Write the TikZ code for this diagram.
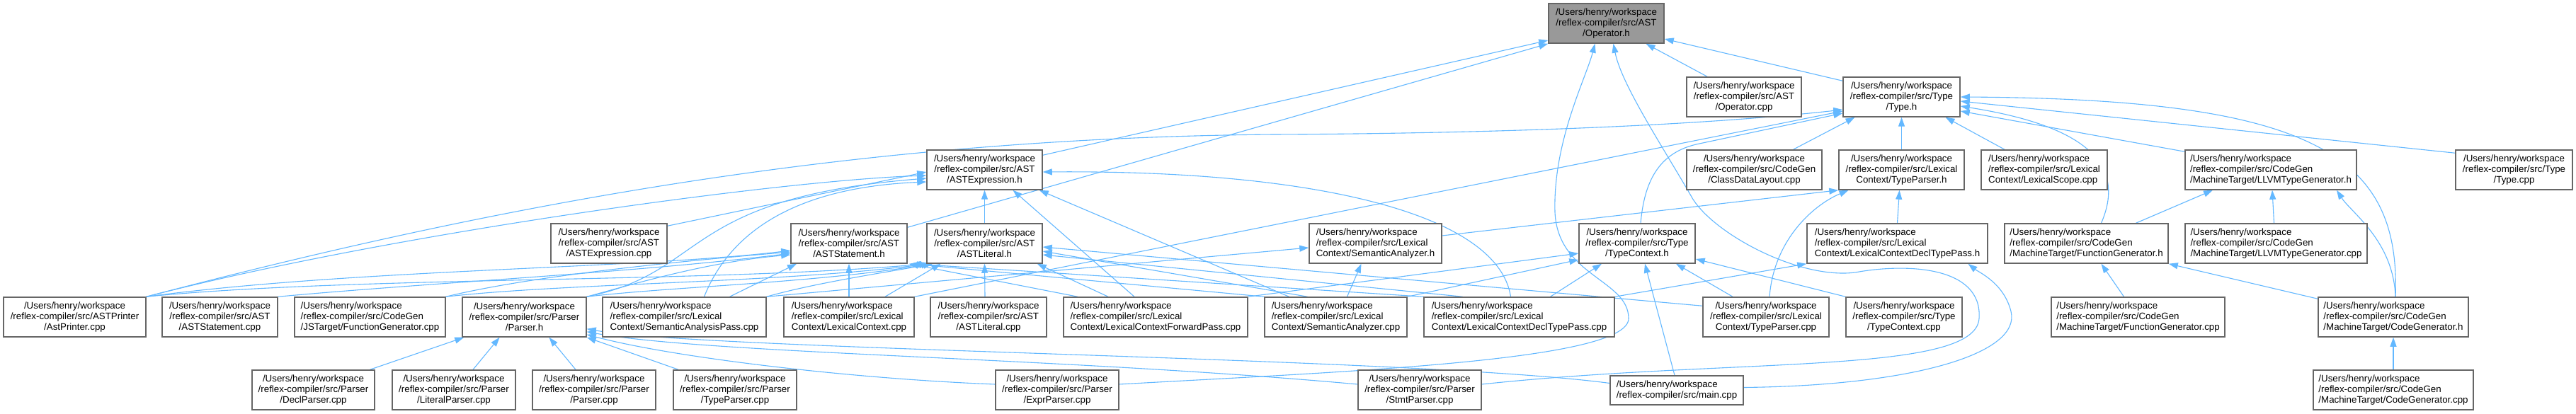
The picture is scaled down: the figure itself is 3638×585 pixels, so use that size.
\documentclass[tikz,border=0pt]{standalone}
\usepackage{fontspec}
\setmainfont{Liberation Sans}
\usetikzlibrary{arrows.meta}
\definecolor{edgec}{HTML}{63B8FF}
\definecolor{bordc}{HTML}{666666}
\definecolor{rootc}{HTML}{999999}
\pgfdeclarelayer{bg}
\pgfsetlayers{bg,main}
\tikzset{
 box/.style={draw=bordc, line width=1.5pt, fill=white, inner sep=0pt, font=\fontsize{13.33}{15}\selectfont, text=black},
 rootbox/.style={box, fill=rootc},
 edge/.style={draw=edgec, line width=1.1pt, -{Triangle[length=13pt,width=9pt]}},
}
\newcommand{\mkbox}[7]{\node[#6,minimum width={#4-#2},minimum height={#5-#3}] (#1) at ({(#2+#4)/2},{(#3+#5)/2}) {#7};}
\begin{document}
\begin{tikzpicture}[x=1pt,y=-1pt]
\useasboundingbox (0,0) rectangle (3638,585);
\begin{pgfonlayer}{bg}
\fill[white] (0,0) rectangle (3638,585);
\end{pgfonlayer}
% rank 0
\mkbox{opH}{2187}{5}{2350}{61}{rootbox,align=center}{/Users/henry/workspace\\/reflex-compiler/src/AST\\/Operator.h}
% rank 1
\mkbox{opCpp}{2382}{109}{2544}{165}{box,align=center}{/Users/henry/workspace\\/reflex-compiler/src/AST\\/Operator.cpp}
\mkbox{typeH}{2603}{109}{2768}{165}{box,align=center}{/Users/henry/workspace\\/reflex-compiler/src/Type\\/Type.h}
% rank 2
\mkbox{astExprH}{1309}{212}{1472}{268}{box,align=center}{/Users/henry/workspace\\/reflex-compiler/src/AST\\/ASTExpression.h}
\mkbox{classDL}{2382}{212}{2573}{268}{box,align=center}{/Users/henry/workspace\\/reflex-compiler/src/CodeGen\\/ClassDataLayout.cpp}
\mkbox{tpH}{2597}{212}{2774}{268}{box,align=center}{/Users/henry/workspace\\/reflex-compiler/src/Lexical\\Context/TypeParser.h}
\mkbox{lexScope}{2798}{212}{2976}{268}{box,align=left}{/Users/henry/workspace\\/reflex-compiler/src/Lexical\\Context/LexicalScope.cpp}
\mkbox{llvmTGH}{3086}{212}{3328}{268}{box,align=left}{/Users/henry/workspace\\/reflex-compiler/src/CodeGen\\/MachineTarget/LLVMTypeGenerator.h}
\mkbox{typeCpp}{3468}{212}{3633}{268}{box,align=center}{/Users/henry/workspace\\/reflex-compiler/src/Type\\/Type.cpp}
% rank 3
\mkbox{astExprCpp}{778}{316}{942}{372}{box,align=center}{/Users/henry/workspace\\/reflex-compiler/src/AST\\/ASTExpression.cpp}
\mkbox{astStmtH}{1117}{316}{1281}{372}{box,align=center}{/Users/henry/workspace\\/reflex-compiler/src/AST\\/ASTStatement.h}
\mkbox{astLitH}{1309}{316}{1472}{372}{box,align=center}{/Users/henry/workspace\\/reflex-compiler/src/AST\\/ASTLiteral.h}
\mkbox{semAnH}{1849}{316}{2036}{372}{box,align=left}{/Users/henry/workspace\\/reflex-compiler/src/Lexical\\Context/SemanticAnalyzer.h}
\mkbox{typeCtxH}{2230}{316}{2394}{372}{box,align=center}{/Users/henry/workspace\\/reflex-compiler/src/Type\\/TypeContext.h}
\mkbox{lcdtpH}{2552}{316}{2807}{372}{box,align=left}{/Users/henry/workspace\\/reflex-compiler/src/Lexical\\Context/LexicalContextDeclTypePass.h}
\mkbox{fgH}{2831}{316}{3062}{372}{box,align=left}{/Users/henry/workspace\\/reflex-compiler/src/CodeGen\\/MachineTarget/FunctionGenerator.h}
\mkbox{llvmTGCpp}{3086}{316}{3343}{372}{box,align=left}{/Users/henry/workspace\\/reflex-compiler/src/CodeGen\\/MachineTarget/LLVMTypeGenerator.cpp}
% rank 4
\mkbox{astPrinter}{5}{420}{206}{476}{box,align=center}{/Users/henry/workspace\\/reflex-compiler/src/ASTPrinter\\/AstPrinter.cpp}
\mkbox{astStmtCpp}{229}{420}{392}{476}{box,align=center}{/Users/henry/workspace\\/reflex-compiler/src/AST\\/ASTStatement.cpp}
\mkbox{jsFG}{416}{420}{629}{476}{box,align=left}{/Users/henry/workspace\\/reflex-compiler/src/CodeGen\\/JSTarget/FunctionGenerator.cpp}
\mkbox{parserH}{653}{420}{828}{476}{box,align=center}{/Users/henry/workspace\\/reflex-compiler/src/Parser\\/Parser.h}
\mkbox{semPass}{851}{420}{1082}{476}{box,align=left}{/Users/henry/workspace\\/reflex-compiler/src/Lexical\\Context/SemanticAnalysisPass.cpp}
\mkbox{lexCtx}{1107}{420}{1291}{476}{box,align=left}{/Users/henry/workspace\\/reflex-compiler/src/Lexical\\Context/LexicalContext.cpp}
\mkbox{astLitCpp}{1314}{420}{1478}{476}{box,align=center}{/Users/henry/workspace\\/reflex-compiler/src/AST\\/ASTLiteral.cpp}
\mkbox{lcFwd}{1502}{420}{1762}{476}{box,align=left}{/Users/henry/workspace\\/reflex-compiler/src/Lexical\\Context/LexicalContextForwardPass.cpp}
\mkbox{semAnCpp}{1786}{420}{1987}{476}{box,align=left}{/Users/henry/workspace\\/reflex-compiler/src/Lexical\\Context/SemanticAnalyzer.cpp}
\mkbox{lcdtpCpp}{2011}{420}{2280}{476}{box,align=left}{/Users/henry/workspace\\/reflex-compiler/src/Lexical\\Context/LexicalContextDeclTypePass.cpp}
\mkbox{lcTPCpp}{2405}{420}{2583}{476}{box,align=center}{/Users/henry/workspace\\/reflex-compiler/src/Lexical\\Context/TypeParser.cpp}
\mkbox{typeCtxCpp}{2607}{420}{2771}{476}{box,align=center}{/Users/henry/workspace\\/reflex-compiler/src/Type\\/TypeContext.cpp}
\mkbox{fgCpp}{2897}{420}{3142}{476}{box,align=left}{/Users/henry/workspace\\/reflex-compiler/src/CodeGen\\/MachineTarget/FunctionGenerator.cpp}
\mkbox{cgH}{3274}{420}{3486}{476}{box,align=left}{/Users/henry/workspace\\/reflex-compiler/src/CodeGen\\/MachineTarget/CodeGenerator.h}
% rank 5
\mkbox{declP}{356}{523}{529}{579}{box,align=center}{/Users/henry/workspace\\/reflex-compiler/src/Parser\\/DeclParser.cpp}
\mkbox{litP}{554}{523}{728}{579}{box,align=center}{/Users/henry/workspace\\/reflex-compiler/src/Parser\\/LiteralParser.cpp}
\mkbox{parserCpp}{752}{523}{926}{579}{box,align=center}{/Users/henry/workspace\\/reflex-compiler/src/Parser\\/Parser.cpp}
\mkbox{typeP}{951}{523}{1125}{579}{box,align=center}{/Users/henry/workspace\\/reflex-compiler/src/Parser\\/TypeParser.cpp}
\mkbox{exprP}{1406}{523}{1580}{579}{box,align=center}{/Users/henry/workspace\\/reflex-compiler/src/Parser\\/ExprParser.cpp}
\mkbox{stmtP}{1918}{523}{2092}{579}{box,align=center}{/Users/henry/workspace\\/reflex-compiler/src/Parser\\/StmtParser.cpp}
\mkbox{mainCpp}{2274}{531}{2462}{572}{box,align=left}{/Users/henry/workspace\\/reflex-compiler/src/main.cpp}
\mkbox{cgCpp}{3267}{523}{3493}{579}{box,align=left}{/Users/henry/workspace\\/reflex-compiler/src/CodeGen\\/MachineTarget/CodeGenerator.cpp}

\begin{pgfonlayer}{bg}
% into Operator.h
\draw[edge] ([xshift=-52pt]opCpp.north) -- ([xshift=56pt]opH.south);
\draw[edge] ([yshift=-6pt]typeH.north west) -- ([yshift=-22pt]opH.east);
\draw[edge] ([yshift=-8pt]astExprH.north east) -- ([yshift=-24pt]opH.west);
\draw[edge] ([yshift=-6pt]astStmtH.north east) -- (opH.south west);
\draw[edge] ([yshift=8pt]exprP.east) .. controls (1900,525) and (2300,510) .. (2300,450) .. controls (2300,395) and (2200,390) .. (2196,300) .. controls (2193,200) and (2240,110) .. ([xshift=-16pt]opH.south);
\draw[edge] ([yshift=8pt]stmtP.east) .. controls (2450,505) and (2790,530) .. (2795,450) .. controls (2800,375) and (2690,372) .. (2620,385) .. controls (2540,395) and (2420,330) .. (2390,280) .. controls (2350,210) and (2290,120) .. ([xshift=10pt]opH.south);
% into Type.h
\draw[edge] ([xshift=55pt]classDL.north) -- ([xshift=-66pt]typeH.south);
\draw[edge] (tpH.north) -- (typeH.south);
\draw[edge] ([xshift=-56pt]lexScope.north) -- ([xshift=62pt]typeH.south);
\draw[edge] ([yshift=-3pt]llvmTGH.north west) -- ([yshift=-20pt]typeH.east);
\draw[edge] ([yshift=-5pt]typeCpp.north west) -- ([yshift=-6pt]typeH.east);
\draw[edge] ([xshift=21pt]fgH.north) .. controls (3000,240) and (2960,180) .. ([yshift=-13pt]typeH.east);
\draw[edge] ([xshift=3pt]cgH.north) .. controls (3390,220) and (3270,140) .. (typeH.east);
\draw[edge] ([xshift=5pt]typeCtxH.north) .. controls (2322,260) and (2340,215) .. (2400,203) -- ([yshift=-23pt]typeH.west);
\draw[edge] (lexCtx.north east) -- ([yshift=-20pt]typeH.west);
\draw[edge] (astPrinter.north east) .. controls (700,290) and (1200,195) .. (1800,190) .. controls (2200,188) and (2450,172) .. ([yshift=-18pt]typeH.west);
% into TypeParser.h
\draw[edge] ([yshift=11pt]semAnH.east) -- (tpH.south west);
\draw[edge] ([xshift=5pt]lcTPCpp.north) .. controls (2505,340) and (2560,290) .. ([xshift=-75pt]tpH.south);
\draw[edge] (lcdtpH.north) -- ([xshift=-3pt]tpH.south);
% into LLVMTypeGenerator.h
\draw[edge] ([xshift=-3pt]llvmTGCpp.north) -- ([xshift=2pt]llvmTGH.south);
\draw[edge] ([xshift=70pt]fgH.north) -- ([xshift=-82pt]llvmTGH.south);
\draw[edge] ([xshift=3pt]cgH.north) .. controls (3380,340) and (3320,300) .. ([xshift=93pt]llvmTGH.south);
% into FunctionGenerator.h / CodeGenerator.h
\draw[edge] ([xshift=-20pt]fgCpp.north) -- ([xshift=21pt]fgH.south);
\draw[edge] ([yshift=-3pt]cgH.north west) -- (fgH.south east);
\draw[edge] (cgCpp.north) -- (cgH.south);
% into LexicalContextDeclTypePass.h
\draw[edge] (lcdtpCpp.north east) -- (lcdtpH.south west);
\draw[edge] ([yshift=4pt]mainCpp.east) .. controls (2700,545) and (2855,500) .. (2840,440) .. controls (2830,400) and (2795,385) .. ([xshift=100pt]lcdtpH.south);
% into TypeContext.h
\draw[edge] (lcFwd.north east) -- ([yshift=-14pt]typeCtxH.west);
\draw[edge] (semAnCpp.north east) -- ([yshift=-23pt]typeCtxH.west);
\draw[edge] ([xshift=44pt]lcdtpCpp.north) -- ([xshift=-50pt]typeCtxH.south);
\draw[edge] ([xshift=-3pt]mainCpp.north) -- ([xshift=11pt]typeCtxH.south);
\draw[edge] ([xshift=-47pt]lcTPCpp.north) -- ([xshift=55pt]typeCtxH.south);
\draw[edge] (typeCtxCpp.north west) -- ([yshift=-22pt]typeCtxH.east);
% into SemanticAnalyzer.h
\draw[edge] ([xshift=16pt]semAnCpp.north) -- ([xshift=-20pt]semAnH.south);
\draw[edge] (semPass.north east) -- ([yshift=-6pt]semAnH.west);
% into Parser.h
\draw[edge] ([xshift=80pt]declP.north) -- ([xshift=3pt]parserH.south west);
\draw[edge] ([xshift=27pt]litP.north) -- ([xshift=-35pt]parserH.south);
\draw[edge] ([xshift=-26pt]parserCpp.north) -- ([xshift=35pt]parserH.south);
\draw[edge] ([xshift=-80pt]typeP.north) -- (parserH.south east);
\draw[edge] ([yshift=8pt]exprP.west) .. controls (1200,535) and (950,505) .. ([yshift=4pt]parserH.south east);
\draw[edge] ([yshift=8pt]stmtP.west) .. controls (1500,505) and (1000,500) .. ([yshift=8pt]parserH.south east);
\draw[edge] ([yshift=10pt]mainCpp.west) .. controls (2000,505) and (1000,495) .. ([yshift=12pt]parserH.south east);
% into ASTExpression.h
\draw[edge] ([yshift=-4pt]astExprCpp.north east) -- ([yshift=-3pt]astExprH.west);
\draw[edge] (astLitH.north) -- (astExprH.south);
\draw[edge] (parserH.north east) .. controls (1000,385) and (960,280) .. ([yshift=-12pt]astExprH.west);
\draw[edge] ([xshift=28pt]semPass.north) .. controls (1030,330) and (1120,265) .. ([yshift=-17pt]astExprH.west);
\draw[edge] (astPrinter.north east) .. controls (550,330) and (1100,255) .. ([yshift=-8pt]astExprH.west);
\draw[edge] ([xshift=-30pt]lcFwd.north) -- ([xshift=40pt]astExprH.south);
\draw[edge] ([xshift=-66pt]semAnCpp.north) -- ([xshift=-5pt]astExprH.south east);
\draw[edge] ([xshift=-12pt]lcdtpCpp.north) .. controls (2115,300) and (1850,240) .. ([yshift=-3pt]astExprH.east);
% into ASTStatement.h
\draw[edge] (astStmtCpp.north east) .. controls (600,400) and (900,385) .. ([yshift=-14pt]astStmtH.west);
\draw[edge] (lexCtx.north) -- (astStmtH.south);
\draw[edge] ([xshift=64pt]semPass.north) -- ([xshift=-74pt]astStmtH.south);
\draw[edge] (astPrinter.north east) .. controls (500,380) and (900,380) .. ([yshift=-10pt]astStmtH.west);
\draw[edge] (jsFG.north east) .. controls (750,390) and (950,370) .. ([yshift=-12pt]astStmtH.west);
\draw[edge] (parserH.north east) .. controls (900,400) and (1000,370) .. ([yshift=-16pt]astStmtH.west);
\draw[edge] ([xshift=-110pt]lcFwd.north) -- ([xshift=2pt]astStmtH.south east);
\draw[edge] (semAnCpp.north west) -- ([xshift=4pt]astStmtH.south east);
\draw[edge] (lcdtpCpp.north west) -- ([xshift=6pt]astStmtH.south east);
% into ASTLiteral.h
\draw[edge] ([xshift=-5pt]astLitCpp.north) -- (astLitH.south);
\draw[edge] ([xshift=51pt]lexCtx.north) -- ([xshift=-62pt]astLitH.south);
\draw[edge] ([xshift=-67pt]lcFwd.north) -- ([xshift=-8pt]astLitH.south east);
\draw[edge] (astPrinter.north east) .. controls (500,390) and (1000,400) .. (astLitH.south west);
\draw[edge] (jsFG.north east) .. controls (800,400) and (1100,400) .. ([xshift=3pt]astLitH.south west);
\draw[edge] (parserH.north east) .. controls (950,405) and (1150,400) .. ([xshift=6pt]astLitH.south west);
\draw[edge] (semPass.north east) .. controls (1150,400) and (1250,385) .. ([xshift=9pt]astLitH.south west);
\draw[edge] ([xshift=-40pt]semAnCpp.north) -- ([yshift=-11pt]astLitH.east);
\draw[edge] ([xshift=-80pt]lcdtpCpp.north) -- ([yshift=-16pt]astLitH.east);
\draw[edge] ([yshift=-13pt]lcTPCpp.north west) -- ([yshift=-5pt]astLitH.east);
\end{pgfonlayer}
\end{tikzpicture}
\end{document}
